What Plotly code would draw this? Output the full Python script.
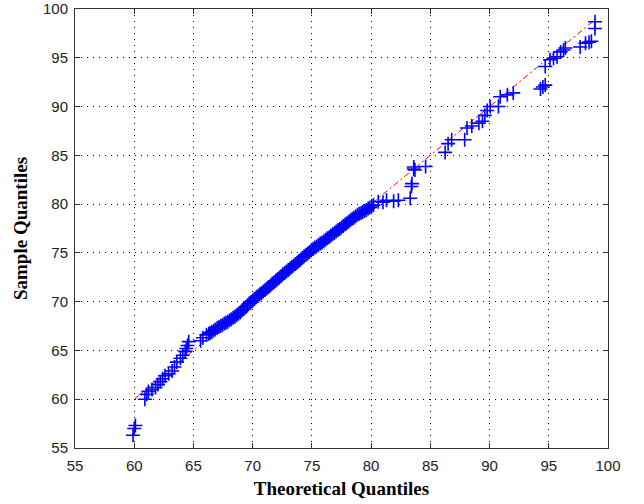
import plotly.graph_objects as go

# Sparse lower tail (theoretical, sample)
low_x = [59.9, 60.0, 60.1, 60.9, 61.05, 61.2, 61.5, 61.8, 62.0, 62.2, 62.4, 62.6, 62.9, 63.2,
         63.4, 63.6, 63.9, 64.1, 64.3, 64.4, 64.5, 64.6, 65.6, 65.8, 66.1, 66.3]
low_y = [56.3, 57.0, 57.3, 60.0, 60.5, 60.8, 61.0, 61.2, 61.5, 61.8, 62.1, 62.4, 62.6, 62.9,
         63.3, 63.8, 64.2, 64.5, 64.9, 65.2, 65.5, 65.9, 66.0, 66.3, 66.6, 66.7]

# Dense central band
band_x = [66.4, 66.55, 66.7, 66.85, 67.0, 67.15, 67.3, 67.45, 67.6, 67.75, 67.9, 68.05, 68.2,
          68.35, 68.5, 68.65, 68.8, 68.95, 69.1, 69.25, 69.4, 69.55, 69.7, 69.85, 70.0, 70.15,
          70.3, 70.45, 70.6, 70.75, 70.9, 71.05, 71.2, 71.35, 71.5, 71.65, 71.8, 71.95, 72.1,
          72.25, 72.4, 72.55, 72.7, 72.85, 73.0, 73.15, 73.3, 73.45, 73.6, 73.75, 73.9, 74.05,
          74.2, 74.35, 74.5, 74.65, 74.8, 74.95, 75.1, 75.25, 75.4, 75.55, 75.7, 75.85, 76.0,
          76.15, 76.3, 76.45, 76.6, 76.75, 76.9, 77.05, 77.2, 77.35, 77.5, 77.65, 77.8, 77.95,
          78.1, 78.25, 78.4, 78.55, 78.7, 78.85, 79.0, 79.15, 79.3, 79.45, 79.6, 79.75, 79.9, 80.05]
band_y = [66.8, 66.9, 67.05, 67.15, 67.3, 67.4, 67.5, 67.6, 67.75, 67.85, 67.95, 68.1, 68.2,
          68.35, 68.45, 68.6, 68.75, 68.9, 69.1, 69.25, 69.45, 69.6, 69.8, 69.95, 70.1, 70.3,
          70.45, 70.6, 70.75, 70.9, 71.05, 71.2, 71.35, 71.5, 71.65, 71.85, 72.0, 72.15, 72.3,
          72.45, 72.6, 72.8, 72.95, 73.1, 73.25, 73.4, 73.55, 73.7, 73.85, 74.0, 74.15, 74.3,
          74.5, 74.65, 74.8, 74.95, 75.1, 75.25, 75.4, 75.55, 75.65, 75.8, 75.95, 76.05, 76.2,
          76.35, 76.5, 76.6, 76.75, 76.9, 77.05, 77.2, 77.35, 77.45, 77.6, 77.75, 77.9, 78.05,
          78.2, 78.35, 78.5, 78.6, 78.75, 78.9, 79.0, 79.1, 79.2, 79.3, 79.4, 79.55, 79.65, 79.8]

# Sparse upper tail
high_x = [80.2, 80.6, 81.0, 81.3, 81.9, 82.3, 83.3, 83.4, 83.45, 83.6, 83.7, 83.6, 84.6, 86.25,
          86.5, 86.8, 87.9, 88.1, 88.5, 89.1, 89.4, 89.6, 89.8, 90.05, 90.75, 90.9, 91.5, 92.0,
          94.3, 94.5, 94.7, 94.7, 95.1, 95.4, 95.7, 96.0, 96.25, 96.4, 97.65, 98.1, 98.4, 98.6,
          98.9, 98.9]
high_y = [79.9, 80.25, 80.2, 80.4, 80.3, 80.4, 80.6, 81.8, 82.1, 83.6, 83.5, 83.8, 83.85, 85.3,
          86.2, 86.6, 86.6, 87.8, 88.0, 88.3, 88.5, 89.1, 89.6, 90.0, 90.0, 91.0, 91.2, 91.4,
          91.8, 92.0, 92.2, 94.1, 94.8, 94.95, 95.1, 95.6, 95.8, 96.0, 96.1, 96.5, 96.6, 96.7,
          98.0, 98.7]

# Reference line endpoints
line_x = [60.0, 99.0]
line_y = [60.0, 99.0]

ticks = [55, 60, 65, 70, 75, 80, 85, 90, 95, 100]

qx = low_x + band_x + high_x
qy = low_y + band_y + high_y

fig = go.Figure()
fig.add_trace(go.Scatter(x=line_x, y=line_y, mode="lines",
                         line=dict(color="red", width=1, dash="6px,3px,2px,3px"),
                         hoverinfo="skip", showlegend=False))
fig.add_trace(go.Scatter(x=qx, y=qy, mode="markers",
                         marker=dict(symbol="cross-thin", size=10,
                                     line=dict(color="#0000ff", width=1.6), color="#0000ff"),
                         showlegend=False))

axis_common = dict(
    range=[55, 100], tickvals=ticks, ticktext=[str(t) for t in ticks],
    showgrid=True, gridcolor="black", griddash="1px,5px", gridwidth=1,
    showline=True, linecolor="#333333", linewidth=1, mirror="ticks",
    ticks="inside", ticklen=5, tickcolor="#333333", zeroline=False,
    automargin=False,
    tickfont=dict(family="Liberation Sans, Arial, sans-serif", size=15, color="#222222"),
)

fig.update_layout(
    width=644, height=504,
    margin=dict(l=75, r=36, t=9, b=56),
    paper_bgcolor="white", plot_bgcolor="white",
    xaxis=dict(**axis_common, ticklabelstandoff=4,
               title=dict(text="Theoretical Quantiles", standoff=8,
                          font=dict(family="Liberation Serif, Times New Roman, serif", size=19, color="black"))),
    yaxis=dict(**axis_common, ticklabelstandoff=3,
               title=dict(text="Sample Quantiles", standoff=10,
                          font=dict(family="Liberation Serif, Times New Roman, serif", size=19, color="black"))),
)
fig.update_xaxes(title_font_weight="bold")
fig.update_yaxes(title_font_weight="bold")

fig.write_html("out.html", config={"displayModeBar": False},
               post_script="document.body.style.margin='0';")
